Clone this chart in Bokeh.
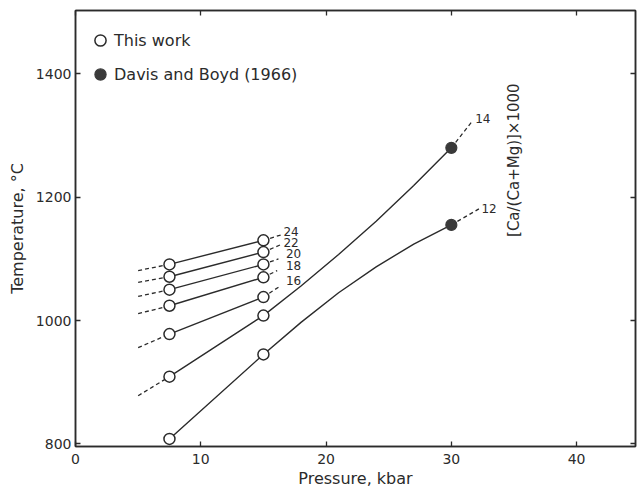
from math import pi
from bokeh.plotting import figure
from bokeh.models import (Range1d, LinearAxis, FixedTicker, Legend, LegendItem,
                          Label, ColumnDataSource)
from bokeh.core.properties import value
from bokeh.embed import file_html
from bokeh.resources import INLINE

# ---------------- data ----------------
compositions = ["24", "22", "20", "18", "16", "14", "12"]
p_low = 7.5
p_high = 15.0
t_low = [1091, 1071, 1050, 1024, 978, 909, 808]      # This work, 7.5 kbar
t_high = [1130, 1111, 1091, 1070, 1038, 1008, 945]   # This work, 15 kbar
davis_p = [30, 30]
davis_t = [1280, 1155]                               # Davis and Boyd (1966)
davis_comp = ["14", "12"]
# traced points along the curved isopleths 14 and 12 (15 -> 30 kbar)
curve_p = [15, 18, 21, 24, 27, 30]
curve14_t = [1008, 1056, 1107, 1161, 1219, 1280]
curve12_t = [945, 997, 1045, 1087, 1124, 1155]
# dashed extrapolations
ext_left_p = 5.0
ext_left_t = [1081, 1062, 1039, 1011, 956, 878]      # isopleths 24..14
ext_right_p = [16.6, 16.5, 16.2, 16.1, 16.2]         # isopleths 24..16
ext_right_t = [1140, 1124, 1100, 1081, 1054]
ext_davis_p = [31.7, 32.2]
ext_davis_t = [1324, 1181]
# isopleth label anchors
label_p = [16.6, 16.6, 16.8, 16.8, 16.8, 31.9, 32.4]
label_t = [1144, 1127, 1108, 1089, 1065, 1327, 1181]
x_ticks = [0, 10, 20, 30, 40]
y_ticks = [800, 1000, 1200, 1400]

INK = "#2b2b2b"
FONT = "DejaVu Sans"

p = figure(width=643, height=491, x_range=Range1d(0, 44.7),
           y_range=Range1d(795.7, 1502.7), toolbar_location=None,
           output_backend="svg", min_border_left=75, min_border_right=8,
           min_border_top=10, min_border_bottom=45,
           background_fill_color="white", border_fill_color="white")
p.xgrid.visible = False
p.ygrid.visible = False
p.outline_line_color = INK
p.outline_line_width = 1.5

for ax, ticks in ((p.xaxis[0], x_ticks), (p.yaxis[0], y_ticks)):
    ax.ticker = FixedTicker(ticks=ticks)
    ax.major_tick_in = 5
    ax.major_tick_out = 0
    ax.minor_tick_line_color = None
    ax.axis_line_color = INK
    ax.axis_line_width = 1.5
    ax.major_tick_line_color = INK
    ax.major_tick_line_width = 1.3
    ax.major_label_text_font = FONT
    ax.major_label_text_font_size = "14px"
    ax.major_label_text_color = INK
    ax.axis_label_text_font = FONT
    ax.axis_label_text_font_size = "16px"
    ax.axis_label_text_font_style = "normal"
    ax.axis_label_text_color = INK

p.xaxis.axis_label = "Pressure, kbar"
p.yaxis.axis_label = "Temperature, °C"
p.xaxis.major_label_standoff = 7
p.xaxis.axis_label_standoff = 2
p.yaxis.major_label_standoff = 4
p.yaxis.axis_label_standoff = 6


def tick_only_axis(ticks):
    return LinearAxis(ticker=FixedTicker(ticks=ticks), major_tick_in=5, major_tick_out=0,
                      minor_tick_line_color=None, major_label_text_font_size="1px",
                      major_label_text_color=None, major_label_standoff=0,
                      axis_line_color=INK, axis_line_width=1.5,
                      major_tick_line_color=INK, major_tick_line_width=1.3)


p.add_layout(tick_only_axis(x_ticks), "above")
p.add_layout(tick_only_axis(y_ticks), "right")

# solid isopleths
solid_xs, solid_ys = [], []
for i in range(5):
    solid_xs.append([p_low, p_high])
    solid_ys.append([t_low[i], t_high[i]])
solid_xs.append([p_low] + curve_p)
solid_ys.append([t_low[5]] + curve14_t)
solid_xs.append([p_low] + curve_p)
solid_ys.append([t_low[6]] + curve12_t)
p.multi_line(solid_xs, solid_ys, line_color=INK, line_width=1.4)

# dashed extrapolations
dash_xs, dash_ys = [], []
for i in range(6):
    dash_xs.append([ext_left_p, p_low])
    dash_ys.append([ext_left_t[i], t_low[i]])
for i in range(5):
    dash_xs.append([p_high, ext_right_p[i]])
    dash_ys.append([t_high[i], ext_right_t[i]])
for j in range(2):
    dash_xs.append([davis_p[j], ext_davis_p[j]])
    dash_ys.append([davis_t[j], ext_davis_t[j]])
p.multi_line(dash_xs, dash_ys, line_color=INK, line_width=1.3, line_dash="4 3")

# markers
open_src = ColumnDataSource(dict(x=[p_low] * 7 + [p_high] * 7, y=t_low + t_high))
r_open = p.scatter("x", "y", source=open_src, marker="circle", size=11,
                   fill_color="white", line_color=INK, line_width=1.5)
davis_src = ColumnDataSource(dict(x=davis_p, y=davis_t))
r_davis = p.scatter("x", "y", source=davis_src, marker="circle", size=11,
                    fill_color="#3a3a3a", line_color="#3a3a3a", line_width=1.2)

# isopleth labels
lab_src = ColumnDataSource(dict(x=label_p, y=label_t, text=compositions))
p.text("x", "y", text="text", source=lab_src, text_font=value(FONT),
       text_font_size="12px", text_color=INK, text_baseline="middle",
       text_align="left")

# rotated annotation
p.add_layout(Label(x=35, y=1260, text="[Ca/(Ca+Mg)]×1000", angle=pi / 2,
                   text_align="center", text_baseline="middle",
                   text_font=FONT, text_font_size="15px", text_color=INK))

legend = Legend(items=[LegendItem(label="This work", renderers=[r_open]),
                       LegendItem(label="Davis and Boyd (1966)", renderers=[r_davis])],
                location=(11, 358), glyph_width=28, glyph_height=28,
                label_standoff=-9, spacing=6, padding=0, margin=0,
                label_text_font=FONT, label_text_font_size="16px",
                label_text_color=INK, label_text_baseline="middle",
                background_fill_alpha=0, border_line_color=None)
p.add_layout(legend)

open("out.html", "w").write(file_html(p, INLINE))
